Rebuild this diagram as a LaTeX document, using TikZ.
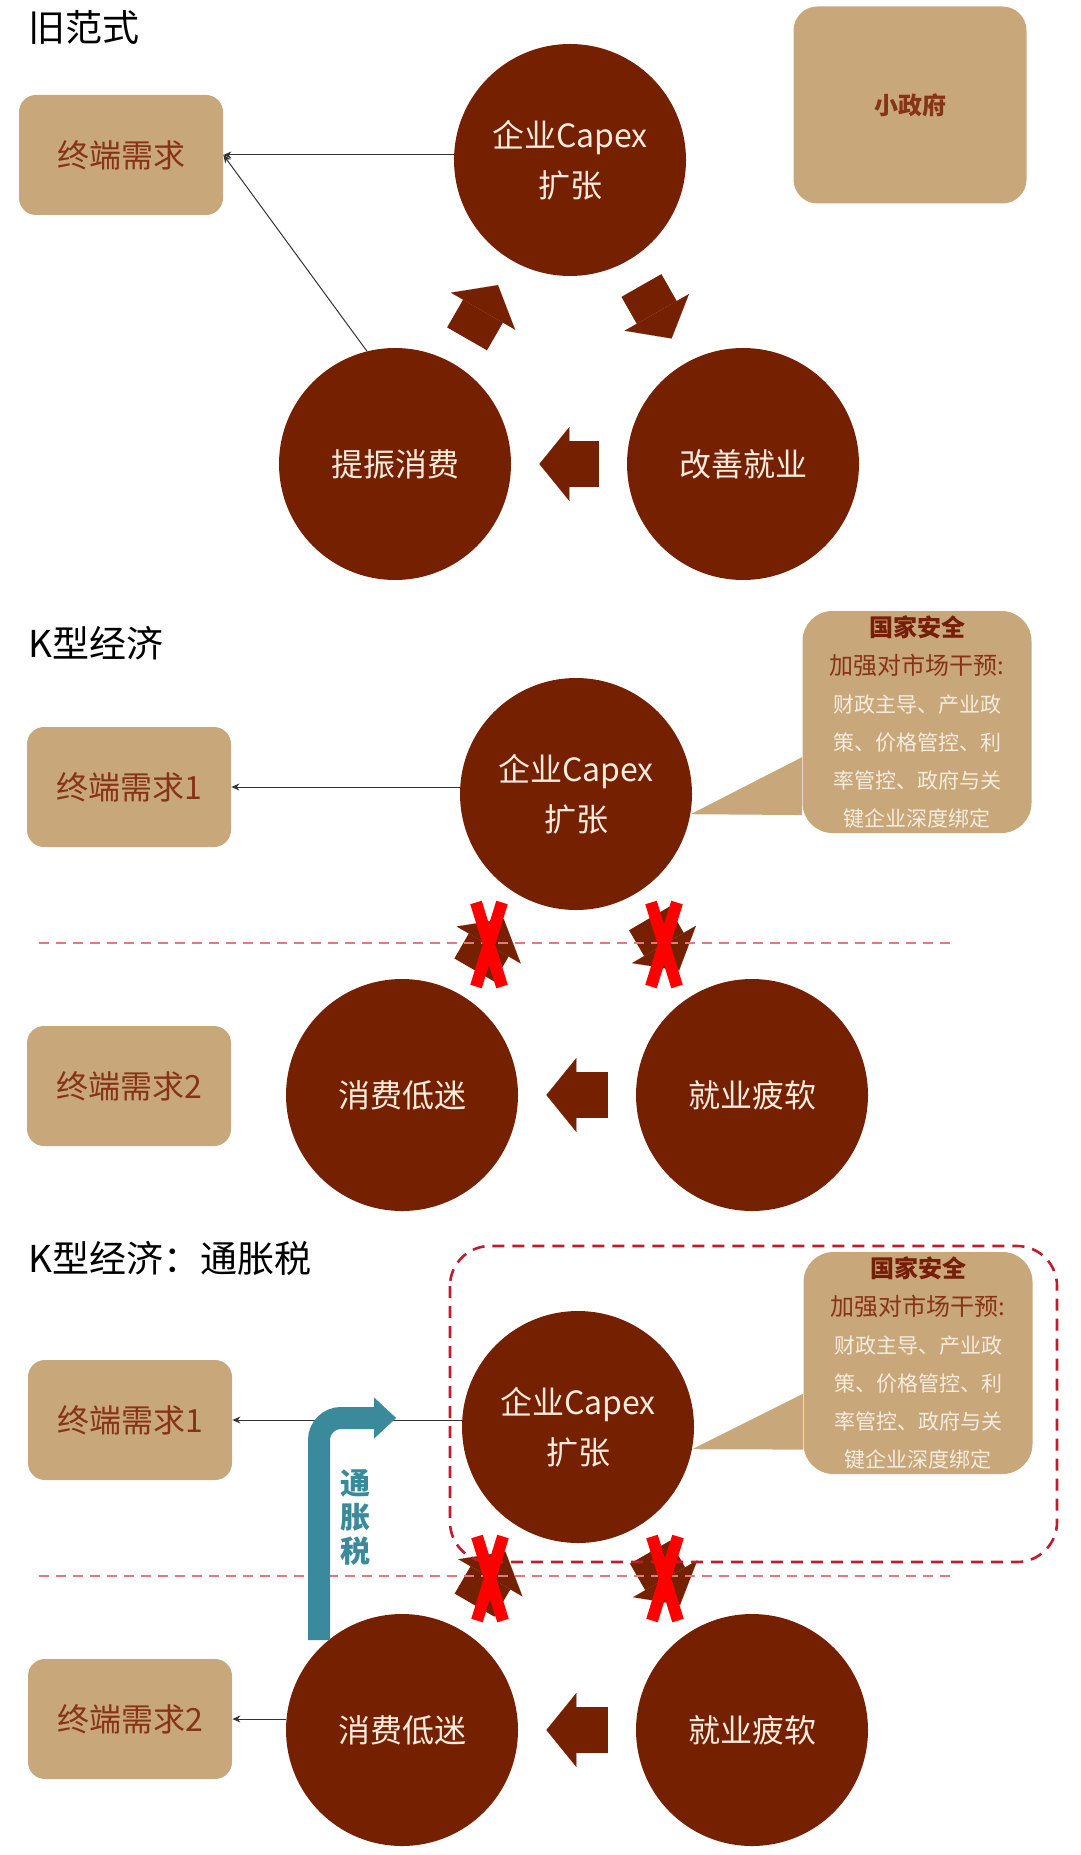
\documentclass[tikz,border=0pt]{standalone}
\usepackage{fontspec}
\setmainfont{Noto Sans CJK SC}
\usepackage{tikz}
\usetikzlibrary{arrows.meta}
\definecolor{rust}{RGB}{118,32,2}
\definecolor{sand}{RGB}{200,167,122}
\definecolor{sandtext}{RGB}{135,52,22}
\definecolor{cream}{RGB}{246,236,222}
\definecolor{deepred}{RGB}{118,30,8}
\definecolor{pinkdash}{RGB}{226,120,130}
\definecolor{framered}{RGB}{192,28,45}
\definecolor{tealblue}{RGB}{58,138,156}
\newcommand\crossmark[1]{\draw[redx] ([shift={(-13,-42)}]#1) -- ([shift={(13,42)}]#1) ([shift={(13,-42)}]#1) -- ([shift={(-13,42)}]#1);}

\begin{document}
\begin{tikzpicture}[x=0.5pt,y=-0.5pt,
  ball/.style={circle, fill=rust, minimum size=116pt, inner sep=0pt, text=cream, align=center, font=\fontsize{16}{25}\selectfont},
  demand/.style={rounded corners=8.5pt, fill=sand, minimum width=102pt, minimum height=60pt, inner sep=0pt, text=sandtext, font=\fontsize{16}{20}\selectfont},
  heading/.style={anchor=west, inner sep=0pt, font=\fontsize{18.5}{22}\selectfont},
  notebox/.style={rounded corners=15pt, fill=sand, minimum width=114.5pt, minimum height=111pt, inner sep=0pt, align=center, text=cream, font=\fontsize{10.5}{19}\selectfont},
  link/.style={black!80, line width=0.5pt, -{Stealth[length=4pt,width=3.5pt]}},
  bigarrow/.style={rust, line width=23pt, -{Triangle[width=37pt,length=15pt,line width=0.01pt]}, shorten <=14pt, shorten >=14pt},
  redx/.style={red, line width=6pt},
  sepline/.style={pinkdash, line width=0.8pt, dash pattern=on 5pt off 3.5pt},
  inflation/.style={tealblue, line width=11pt, -{Triangle[width=20.5pt,length=11pt,line width=0.01pt]}}]
\useasboundingbox (0,0) rectangle (1080,1855);

\node[heading] (t1) at (28,27) {旧范式};
\node[demand] (dem1) at (121,155) {终端需求};
\node[demand, minimum width=116.5pt, minimum height=98.5pt, rounded corners=12pt, font=\fontsize{12}{14}\selectfont\bfseries] (gov) at (910,105) {小政府};
\node[ball] (cap1) at (570,160) {企业Capex\\扩张};
\node[ball] (con1) at (395,464) {提振消费};
\node[ball] (emp1) at (743,464) {改善就业};
\draw[link] (cap1.west |- dem1.east) -- (dem1.east);
\draw[link] (con1.104) -- (dem1.east);
\draw[bigarrow] (con1) -- (cap1);
\draw[bigarrow] (cap1) -- (emp1);
\draw[bigarrow] (emp1) -- (con1);

\node[heading] (t2) at (28,643) {K型经济};
\node[demand] (dem21) at (129,787) {终端需求1};
\node[demand] (dem22) at (129,1086) {终端需求2};
\node[ball] (cap2) at (576,794) {企业Capex\\扩张};
\node[ball] (con2) at (402,1095) {消费低迷};
\node[ball] (emp2) at (752,1095) {就业疲软};
\node[notebox] (nsa2) at (917,722) {{\fontsize{12}{19}\selectfont\bfseries\color{deepred}国家安全}\\{\fontsize{12}{19}\selectfont\color{sandtext}加强对市场干预:}\\财政主导、产业政\\策、价格管控、利\\率管控、政府与关\\键企业深度绑定};
\fill[sand] (cap2.-10) -- (nsa2.197) -- (nsa2.219) -- cycle;
\draw[link] (cap2.west |- dem21.east) -- (dem21.east);
\draw[bigarrow] (con2) -- coordinate[midway] (x2l) (cap2);
\draw[bigarrow] (cap2) -- coordinate[midway] (x2r) (emp2);
\draw[bigarrow] (emp2) -- (con2);
\draw[sepline] (39,943) -- (950,943);
\crossmark{x2l}
\crossmark{x2r}

\node[heading] (t3) at (28,1258) {K型经济：通胀税};
\node[demand] (dem31) at (130,1420) {终端需求1};
\node[demand] (dem32) at (130,1719) {终端需求2};
\node[ball] (cap3) at (578,1427) {企业Capex\\扩张};
\node[ball] (con3) at (402,1730) {消费低迷};
\node[ball] (emp3) at (752,1730) {就业疲软};
\node[notebox] (nsa3) at (918,1363) {{\fontsize{12}{19}\selectfont\bfseries\color{deepred}国家安全}\\{\fontsize{12}{19}\selectfont\color{sandtext}加强对市场干预:}\\财政主导、产业政\\策、价格管控、利\\率管控、政府与关\\键企业深度绑定};
\fill[sand] (cap3.-11) -- (nsa3.195) -- (nsa3.217) -- cycle;
\draw[link] (cap3.west |- dem31.east) -- (dem31.east);
\draw[link] (con3.west |- dem32.east) -- (dem32.east);
\draw[bigarrow] (con3) -- coordinate[midway] (x3l) (cap3);
\draw[bigarrow] (cap3) -- coordinate[midway] (x3r) (emp3);
\draw[bigarrow] (emp3) -- (con3);
\draw[sepline] (39,1576) -- (950,1576);
\draw[framered, line width=1.3pt, dash pattern=on 6pt off 4pt, rounded corners=20pt] (450,1246) rectangle (1057,1562);
\coordinate (tstart) at (319,1640);
\coordinate (tend) at (396,1418);
\draw[inflation] (tstart) [rounded corners=11pt] |- (tend);
\node[text=tealblue, align=center, font=\fontsize{15}{17}\selectfont\bfseries] (tax) at (355,1517) {通\\胀\\税};
\crossmark{x3l}
\crossmark{x3r}
\end{tikzpicture}
\end{document}
